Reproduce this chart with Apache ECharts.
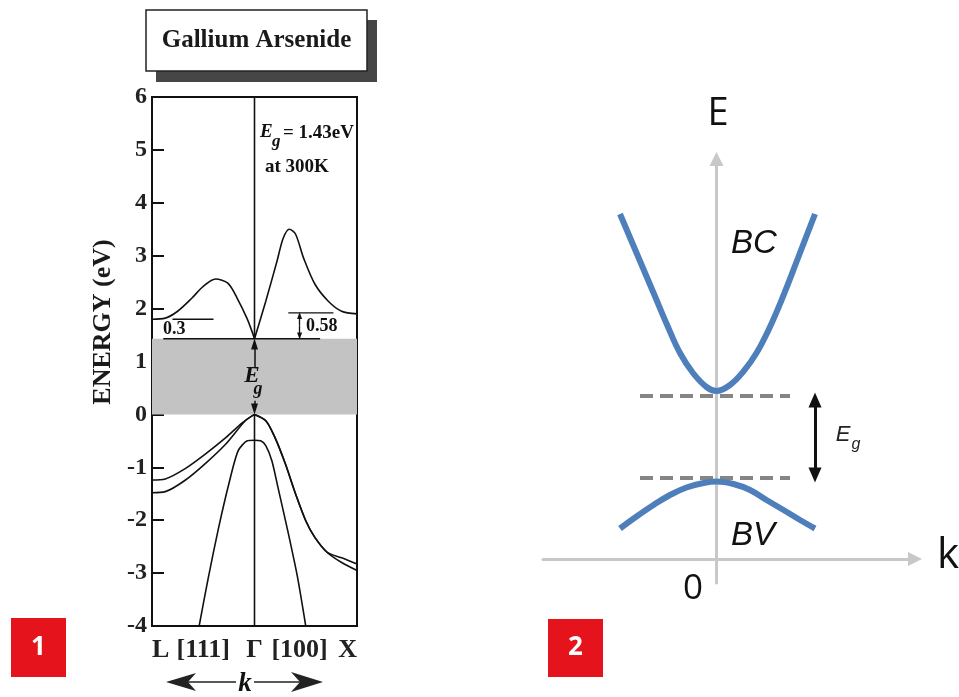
<!DOCTYPE html>
<html><head><meta charset="utf-8">
<script src="https://cdn.jsdelivr.net/npm/echarts@6/dist/echarts.min.js"></script>
<style>html,body{margin:0;padding:0;background:#fff}#c{width:959px;height:697px}</style>
</head><body><div id="c"></div>
<script>
// ---------- Panel 1: GaAs band structure, k from L (-1) through Γ (0) to X (1), E in eV ----------
const cbLeft  = [[-1,1.80],[-0.87,1.82],[-0.75,1.95],[-0.61,2.20],[-0.50,2.42],[-0.38,2.56],[-0.26,2.48],[-0.17,2.20],[-0.07,1.80],[0,1.43]];
const cbRight = [[0,1.43],[0.11,2.14],[0.22,2.90],[0.28,3.33],[0.34,3.50],[0.40,3.41],[0.48,2.95],[0.59,2.46],[0.72,2.14],[0.85,1.95],[1,1.90]];
const hhLeft  = [[-1,-1.24],[-0.87,-1.22],[-0.68,-1.03],[-0.48,-0.75],[-0.28,-0.44],[-0.12,-0.16],[0,0]];
const lhLeft  = [[-1,-1.48],[-0.87,-1.46],[-0.68,-1.25],[-0.48,-0.93],[-0.28,-0.56],[-0.09,-0.12],[0,0]];
const hhRight = [[0,0],[0.11,-0.12],[0.20,-0.44],[0.30,-0.93],[0.40,-1.50],[0.50,-2.01],[0.59,-2.33],[0.71,-2.61],[0.85,-2.71],[1,-2.83]];
const lhRight = [[0,0],[0.11,-0.12],[0.20,-0.44],[0.30,-0.93],[0.40,-1.50],[0.50,-2.01],[0.59,-2.33],[0.71,-2.61],[0.85,-2.80],[1,-2.95]];
const soBand  = [[-0.54,-4],[-0.45,-3.08],[-0.35,-2.14],[-0.25,-1.31],[-0.16,-0.69],[-0.07,-0.50],[0,-0.49],[0.06,-0.50],[0.11,-0.59],[0.17,-0.88],[0.23,-1.39],[0.33,-2.25],[0.42,-3.08],[0.50,-4]];
const gapEdges = [0, 1.43];
const egLine   = [[-0.89,1.43],[0.64,1.43]];
const lValley  = [[-0.80,1.80],[-0.40,1.80]];
const xValley  = [[0.33,1.92],[0.77,1.92]];
const gammaTop = [[0,6],[0,1.43]];
const gammaBot = [[0,0],[0,-4]];
const yRange1 = [-4, 6];
const xTickValues = [-1, -0.5, 0, 0.44, 1];
const xTickLabels = ['L', '[111]', 'Γ', '[100]', 'X'];

// ---------- Panel 2: schematic bands ----------
const bcBand = [[-0.965,6.90],[-0.795,6.10],[-0.625,5.30],[-0.485,4.64],[-0.365,4.12],[-0.235,3.72],[-0.10,3.44],[0,3.36],[0.135,3.48],[0.265,3.74],[0.40,4.12],[0.525,4.60],[0.655,5.20],[0.815,6.02],[0.985,6.90]];
const bvBand = [[-0.965,0.61],[-0.80,0.85],[-0.63,1.08],[-0.465,1.28],[-0.30,1.43],[-0.13,1.52],[0,1.55],[0.17,1.50],[0.335,1.38],[0.50,1.18],[0.67,0.98],[0.835,0.78],[0.985,0.61]];
const ecDash = [[-0.765,3.26],[0.735,3.26]];
const evDash = [[-0.765,1.62],[0.735,1.62]];
const egArrow2 = [[0.985,3.18],[0.985,1.68]];

const serif = "'Liberation Serif','DejaVu Serif',serif";
const sans = "'Open Sans','Liberation Sans',sans-serif";
const arial = "'Liberation Sans','DejaVu Sans',sans-serif";

function band(data, smooth) {
  return {type:'line', xAxisIndex:0, yAxisIndex:0, data, showSymbol:false, symbol:'none', smooth: smooth,
    lineStyle:{color:'#111', width:1.6}, silent:true, z:3};
}
function straight(data, w) {
  return {type:'line', xAxisIndex:0, yAxisIndex:0, data, showSymbol:false, symbol:'none',
    lineStyle:{color:'#111', width:w||1.4}, silent:true, z:3};
}
function arrowMark(pairs, size, width) {
  return {silent:true, symbol:['none','triangle'], symbolSize:size, label:{show:false},
    lineStyle:{type:'solid', color:'#111', width:width}, emphasis:{disabled:true},
    data: pairs.map(p => [{coord:p[0]},{coord:p[1]}])};
}

const chart = echarts.init(document.getElementById('c'), null, {renderer:'canvas'});
chart.setOption({
  animation:false,
  backgroundColor:'#fff',
  grid:[
    {left:152, top:97, width:205, height:529, show:true, borderColor:'#111', borderWidth:2, backgroundColor:'transparent'},
    {left:543, top:159, width:372, height:424, show:false}
  ],
  xAxis:[
    {type:'value', gridIndex:0, min:-1, max:1,
     axisLine:{show:true, onZero:false, lineStyle:{color:'#111', width:2}}, axisTick:{show:false}, splitLine:{show:false},
     axisLabel:{show:true, customValues:xTickValues, margin:11, fontFamily:serif, fontWeight:'bold', fontSize:26, color:'#222',
       alignMinLabel:'left', alignMaxLabel:'right',
       formatter:(v)=>{const i=xTickValues.indexOf(v); return i>=0?xTickLabels[i]:'';}}},
    {type:'value', gridIndex:1, min:-1.735, max:1.985,
     axisLine:{show:true, onZero:true, symbol:['none','triangle'], symbolSize:[14,14], lineStyle:{color:'#c8c8c8', width:3}},
     axisTick:{show:false}, axisLabel:{show:false}, splitLine:{show:false}}
  ],
  yAxis:[
    {type:'value', gridIndex:0, min:yRange1[0], max:yRange1[1], interval:1,
     axisLine:{show:true, onZero:false, lineStyle:{color:'#111', width:2}},
     axisTick:{show:true, inside:true, length:12, lineStyle:{color:'#111', width:2}},
     axisLabel:{margin:5, fontFamily:serif, fontWeight:'bold', fontSize:24, color:'#222'},
     splitLine:{show:false}},
    {type:'value', gridIndex:1, min:-0.48, max:8,
     axisLine:{show:true, onZero:true, symbol:['none','triangle'], symbolSize:[14,14], lineStyle:{color:'#c8c8c8', width:3}},
     axisTick:{show:false}, axisLabel:{show:false}, splitLine:{show:false}}
  ],
  series:[
    Object.assign(straight(egLine, 1.6), {
      markArea:{silent:true, itemStyle:{color:'#c3c3c3'}, emphasis:{disabled:true},
        data:[[{coord:[-1,gapEdges[0]]},{coord:[1,gapEdges[1]]}]]},
      z:2}),
    band(cbLeft, 0.3), band(cbRight, 0.3),
    band(hhLeft, 0.3), band(lhLeft, 0.3), band(hhRight, 0.3), band(lhRight, 0.3),
    band(soBand, 0.25),
    straight(lValley), straight(xValley),
    Object.assign(straight(gammaTop, 1.6), {
      markLine: arrowMark([[[0,0.88],[0,1.33]], [[0,0.26],[0,0.1]]], [7,11], 1.5)}),
    Object.assign(straight(gammaBot, 1.6), {
      markLine: arrowMark([[[0.44,1.68],[0.44,1.87]], [[0.44,1.68],[0.44,1.48]]], [5,7], 1.3)}),
    // panel 2
    {type:'line', xAxisIndex:1, yAxisIndex:1, data:ecDash, symbol:'none', silent:true,
     lineStyle:{color:'#858585', width:4, type:[13,7]}},
    {type:'line', xAxisIndex:1, yAxisIndex:1, data:evDash, symbol:'none', silent:true,
     lineStyle:{color:'#858585', width:4, type:[13,7]},
     markLine:{silent:true, symbol:['triangle','triangle'], symbolSize:[13,15], label:{show:false},
       lineStyle:{type:'solid', color:'#111', width:3}, emphasis:{disabled:true},
       data:[[{coord:egArrow2[0]},{coord:egArrow2[1]}]]}},
    {type:'line', xAxisIndex:1, yAxisIndex:1, data:bcBand, symbol:'none', smooth:0.4, silent:true, z:4,
     lineStyle:{color:'#4e7fbb', width:6}},
    {type:'line', xAxisIndex:1, yAxisIndex:1, data:bvBand, symbol:'none', smooth:0.4, silent:true, z:4,
     lineStyle:{color:'#4e7fbb', width:6}}
  ],
  graphic:[
    // title box
    {type:'rect', shape:{x:156, y:20, width:221, height:62}, style:{fill:'#464646'}, z:1},
    {type:'rect', shape:{x:146, y:10, width:221, height:61}, style:{fill:'#fff', stroke:'#222', lineWidth:1.5}, z:2},
    {type:'text', x:256.5, y:41, z:3, style:{text:'Gallium Arsenide', fontFamily:serif, fontWeight:'bold', fontSize:25, fill:'#1a1a1a', align:'center', verticalAlign:'middle'}},
    // y axis name
    {type:'text', x:103, y:322, rotation:Math.PI/2, style:{text:'ENERGY (eV)', fontFamily:serif, fontWeight:'bold', fontSize:26, fill:'#1a1a1a', align:'center', verticalAlign:'middle'}},
    // Eg annotation
    {type:'text', x:260, y:132, style:{text:'E', fontFamily:serif, fontWeight:'bold', fontStyle:'italic', fontSize:19, fill:'#111', align:'left', verticalAlign:'middle'}},
    {type:'text', x:272, y:142, style:{text:'g', fontFamily:serif, fontWeight:'bold', fontStyle:'italic', fontSize:17, fill:'#111', align:'left', verticalAlign:'middle'}},
    {type:'text', x:283, y:133, style:{text:'= 1.43eV', fontFamily:serif, fontWeight:'bold', fontSize:19, fill:'#111', align:'left', verticalAlign:'middle'}},
    {type:'text', x:265, y:167, style:{text:'at 300K', fontFamily:serif, fontWeight:'bold', fontSize:19, fill:'#111', align:'left', verticalAlign:'middle'}},
    {type:'text', x:163, y:329, style:{text:'0.3', fontFamily:serif, fontWeight:'bold', fontSize:18, fill:'#111', align:'left', verticalAlign:'middle'}},
    {type:'text', x:306, y:326, style:{text:'0.58', fontFamily:serif, fontWeight:'bold', fontSize:18, fill:'#111', align:'left', verticalAlign:'middle'}},
    {type:'text', x:252, y:376, z:10, style:{text:'E', fontFamily:serif, fontWeight:'bold', fontStyle:'italic', fontSize:23, fill:'#111', align:'center', verticalAlign:'middle'}},
    {type:'text', x:258, y:389, z:10, style:{text:'g', fontFamily:serif, fontWeight:'bold', fontStyle:'italic', fontSize:18, fill:'#111', align:'center', verticalAlign:'middle'}},
    // k arrow
    {type:'line', shape:{x1:185, y1:682, x2:236, y2:682}, style:{stroke:'#222', lineWidth:1.6}},
    {type:'line', shape:{x1:254, y1:682, x2:303, y2:682}, style:{stroke:'#222', lineWidth:1.6}},
    {type:'polygon', shape:{points:[[166,682],[196,673],[188,682],[196,691]]}, style:{fill:'#222'}},
    {type:'polygon', shape:{points:[[323,682],[291,672],[300,682],[291,692]]}, style:{fill:'#222'}},
    {type:'text', x:245, y:684, style:{text:'k', fontFamily:serif, fontWeight:'bold', fontStyle:'italic', fontSize:27, fill:'#111', align:'center', verticalAlign:'middle'}},
    // red labels
    {type:'rect', shape:{x:11, y:618, width:55, height:59}, style:{fill:'#e5131c'}},
    {type:'text', x:38.5, y:648, style:{text:'1', fontFamily:sans, fontWeight:'bold', fontSize:26, fill:'#fff', align:'center', verticalAlign:'middle'}},
    {type:'rect', shape:{x:548, y:619, width:55, height:58}, style:{fill:'#e5131c'}},
    {type:'text', x:575.5, y:648, style:{text:'2', fontFamily:sans, fontWeight:'bold', fontSize:26, fill:'#fff', align:'center', verticalAlign:'middle'}},
    // panel 2 texts
    {type:'text', x:718, y:114, style:{text:'E', fontFamily:sans, fontSize:38, fill:'#111', align:'center', verticalAlign:'middle'}},
    {type:'text', x:948, y:556, style:{text:'k', fontFamily:sans, fontSize:42, fill:'#111', align:'center', verticalAlign:'middle'}},
    {type:'text', x:693, y:589, style:{text:'0', fontFamily:sans, fontSize:35, fill:'#111', align:'center', verticalAlign:'middle'}},
    {type:'text', x:754, y:244, style:{text:'BC', fontFamily:arial, fontStyle:'italic', fontSize:33, fill:'#111', align:'center', verticalAlign:'middle'}},
    {type:'text', x:753, y:536, style:{text:'BV', fontFamily:arial, fontStyle:'italic', fontSize:33, fill:'#111', align:'center', verticalAlign:'middle'}},
    {type:'text', x:843, y:435, style:{text:'E', fontFamily:arial, fontStyle:'italic', fontSize:22, fill:'#222', align:'center', verticalAlign:'middle'}},
    {type:'text', x:856, y:445, style:{text:'g', fontFamily:arial, fontStyle:'italic', fontSize:16, fill:'#222', align:'center', verticalAlign:'middle'}}
  ]
});
</script></body></html>
